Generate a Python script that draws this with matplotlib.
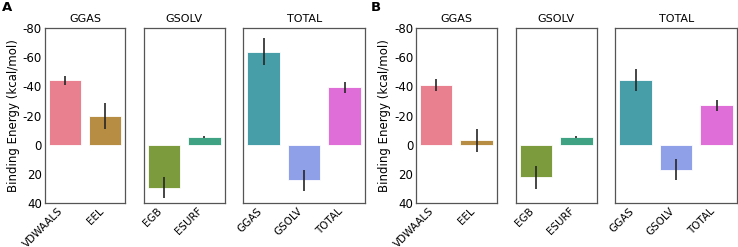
import matplotlib
matplotlib.use("Agg")
import matplotlib.pyplot as plt
import numpy as np

plt.rcParams['font.family'] = ['DejaVu Sans']
plt.rcParams['axes.unicode_minus'] = False

# groups and terms
groups = ['GGAS', 'GSOLV', 'TOTAL']
terms = [['VDWAALS', 'EEL'], ['EGB', 'ESURF'], ['GGAS', 'GSOLV', 'TOTAL']]

# panel A: mean and error (kcal/mol)
mean_a = [[-44.0, -19.7], [29.5, -5.3], [-63.8, 24.5, -39.2]]
err_a = [[3.2, 9.0], [7.0, 0.4], [9.3, 7.0, 4.1]]

# panel B
mean_b = [[-40.9, -3.0], [22.4, -5.3], [-44.2, 17.1, -27.0]]
err_b = [[4.2, 7.9], [7.8, 0.4], [7.5, 7.2, 3.8]]

colors = [['#e8808f', '#b68d42'], ['#7b9b3c', '#3fa283'],
          ['#479ea9', '#8f9fe8', '#e06ed9']]

W, H = 738, 247
fig = plt.figure(figsize=(W / 100, H / 100), dpi=100)

lefts = {'A': [44.7, 143.7, 243.3], 'B': [416.0, 515.7, 615.3]}
widths = [80.7, 81.0, 121.7]
top, bottom = 28, 203

for panel, means, errs in [('A', mean_a, err_a), ('B', mean_b, err_b)]:
    for i, g in enumerate(groups):
        ax = fig.add_axes([lefts[panel][i] / W, (H - bottom) / H,
                           widths[i] / W, (bottom - top) / H])
        x = np.arange(len(terms[i]))
        ax.bar(x, means[i], width=0.8, color=colors[i],
               edgecolor='white', linewidth=0.6)
        ax.errorbar(x, means[i], yerr=errs[i], fmt='none',
                    ecolor='#262626', elinewidth=1.2, capsize=0)
        ax.set_xlim(-0.5, len(terms[i]) - 0.5)
        ax.set_ylim(40, -80)
        ax.set_xticks(x)
        ax.set_xticklabels(terms[i], rotation=45, ha='right')
        ax.set_title(g, fontsize=8, pad=4)
        ax.tick_params(length=0, pad=2)
        ax.tick_params(axis='x', labelsize=7.5)
        ax.tick_params(axis='y', labelsize=8.5)
        for s in ax.spines.values():
            s.set_color('#555555')
            s.set_linewidth(0.9)
        if i == 0:
            ax.set_yticks([-80, -60, -40, -20, 0, 20, 40])
            ax.set_ylabel('Binding Energy (kcal/mol)', fontsize=8.5, labelpad=2)
        else:
            ax.set_yticks([])
    x0 = 2 if panel == 'A' else 371
    fig.text(x0 / W, 1 - 1 / H, panel, fontsize=9.5, fontweight='bold',
             ha='left', va='top')

fig.savefig('out.png', dpi=100)
